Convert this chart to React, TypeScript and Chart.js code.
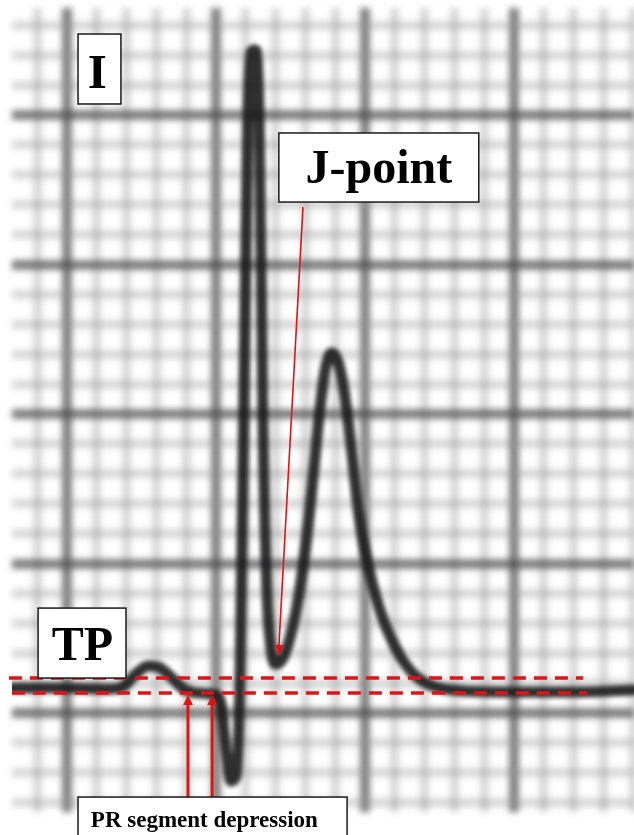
import React, { useEffect, useRef } from "react";
import { Chart, registerables } from "chart.js";

Chart.register(...registerables);

// ECG trace, lead I (units: small squares, 1 mm; big square = 5 mm)
const ecgX = [
  -1.846, -0.235, 1.443, 1.913, 2.315, 2.718, 3.121, 3.523, 3.926, 4.463, 4.933,
  5.168, 5.336, 5.503, 5.671, 5.805, 5.94, 6.074, 6.174, 6.309, 6.443, 6.577, 6.711,
  6.846, 7.013, 7.248, 7.517, 7.785, 8.054, 8.289, 8.49, 8.691, 8.893, 9.094, 9.295,
  9.53, 9.799, 10.101, 10.47, 10.872, 11.309, 11.779, 12.383, 13.356, 15.201, 17.215,
  19.027,
];
const ecgY = [
  0.836, 0.836, 0.803, 0.903, 1.304, 1.572, 1.505, 1.171, 0.803, 0.669, 0.635,
  0.268, -1.237, -2.274, -2.107, 1.104, 10.468, 19.833, 22.107, 22.174, 20.167, 9.799,
  4.114, 2.174, 1.639, 1.839, 2.642, 3.946, 5.953, 8.194, 10.201, 11.605, 12.04, 11.739,
  10.803, 8.963, 6.622, 4.95, 3.545, 2.508, 1.706, 1.171, 0.87, 0.736, 0.702, 0.702,
  0.769,
];

// Reference baselines (dashed red)
const tpLineX = [-1.95, 17.32];
const tpLineY = [1.17, 1.17];
const prLineX = [-1.85, 17.48];
const prLineY = [0.67, 0.67];

// Arrows: [fromX, fromY, toX, toY]
const jArrow = [7.92, 16.92, 7.11, 1.91];
const prArrowA = [4.06, -2.81, 4.06, 0.6];
const prArrowB = [4.87, -2.81, 4.87, 0.6];

// Labels
const labelTexts = ["I", "J-point", "TP", "PR segment depression"];
// box corners [x1, yTop, x2, yBottom] and text anchor [centerX, baselineY]
const labelBoxes = [
  [0.37, 22.71, 1.81, 20.37],
  [7.11, 19.4, 13.82, 17.09],
  [-0.97, 3.51, 1.98, 1.17],
  [0.37, -2.81, 9.4, -4.3],
];
const labelAnchors = [
  [1.02, 20.9],
  [10.47, 17.73],
  [0.52, 1.77],
  [4.61, -3.81],
];
const labelSizes = [49, 48, 48, 23];

const X_MIN = -1.846;
const X_MAX = 19.03;
const Y_MIN = -3.31;
const Y_MAX = 23.58;

const RED = "#e01414";

const pts = (xs: number[], ys: number[]) => xs.map((x, i) => ({ x, y: ys[i] }));

function isMajor(v: number) {
  return Math.abs(Math.round(v)) % 5 === 0;
}

function intTicks(scale: any) {
  const out: any[] = [];
  for (let v = Math.ceil(scale.min); v <= Math.floor(scale.max); v++) out.push({ value: v });
  scale.ticks = out;
}

const overlayPlugin = {
  id: "ecgOverlay",
  beforeDraw(chart: any) {
    chart.ctx.save();
    chart.ctx.filter = "blur(3px)";
  },
  beforeDatasetsDraw(chart: any) {
    chart.ctx.restore();
  },
  beforeDatasetDraw(chart: any, args: any) {
    if (args.index === 0) {
      chart.ctx.save();
      chart.ctx.filter = "blur(2px)";
    }
  },
  afterDatasetDraw(chart: any, args: any) {
    if (args.index === 0) chart.ctx.restore();
  },
  afterDraw(chart: any) {
    const ctx = chart.ctx;
    const xs = chart.scales.x;
    const ys = chart.scales.y;
    const px = (v: number) => xs.getPixelForValue(v);
    const py = (v: number) => ys.getPixelForValue(v);

    const head = (a: number[], len: number, half: number) => {
      const x1 = px(a[0]), y1 = py(a[1]), x2 = px(a[2]), y2 = py(a[3]);
      const ang = Math.atan2(y2 - y1, x2 - x1);
      ctx.save();
      ctx.fillStyle = RED;
      ctx.beginPath();
      ctx.moveTo(x2, y2);
      ctx.lineTo(
        x2 - len * Math.cos(ang) + half * Math.sin(ang),
        y2 - len * Math.sin(ang) - half * Math.cos(ang)
      );
      ctx.lineTo(
        x2 - len * Math.cos(ang) - half * Math.sin(ang),
        y2 - len * Math.sin(ang) + half * Math.cos(ang)
      );
      ctx.closePath();
      ctx.fill();
      ctx.restore();
    };
    head(jArrow, 11, 4.5);
    head(prArrowA, 10, 5);
    head(prArrowB, 10, 5);

    labelTexts.forEach((t, i) => {
      const b = labelBoxes[i];
      const x1 = px(b[0]), y1 = py(b[1]), x2 = px(b[2]), y2 = py(b[3]);
      ctx.save();
      ctx.fillStyle = "#ffffff";
      ctx.fillRect(x1, y1, x2 - x1, y2 - y1);
      ctx.strokeStyle = "#1a1a1a";
      ctx.lineWidth = 1.5;
      ctx.strokeRect(x1, y1, x2 - x1, y2 - y1);
      ctx.fillStyle = "#000000";
      ctx.font = `bold ${labelSizes[i]}px "Liberation Serif", "Times New Roman", serif`;
      ctx.textAlign = "center";
      ctx.textBaseline = "alphabetic";
      ctx.fillText(t, px(labelAnchors[i][0]), py(labelAnchors[i][1]));
      ctx.restore();
    });
  },
};

export default function App() {
  const ref = useRef<HTMLCanvasElement | null>(null);

  useEffect(() => {
    if (!ref.current) return;
    const gridOpts = {
      display: true,
      drawTicks: false,
      color: (c: any) =>
        isMajor(c.tick.value) ? "rgba(80,80,80,0.72)" : "rgba(150,150,150,0.36)",
      lineWidth: (c: any) => (isMajor(c.tick.value) ? 10 : 9),
    };
    const chart = new Chart(ref.current, {
      type: "line",
      data: {
        datasets: [
          {
            label: "ECG",
            data: pts(ecgX, ecgY),
            borderColor: "rgba(25,25,25,0.9)",
            borderWidth: 11,
            pointRadius: 0,
            cubicInterpolationMode: "monotone",
            borderCapStyle: "round",
            borderJoinStyle: "round",
            order: 1,
          },
          {
            label: "TP baseline",
            data: pts(tpLineX, tpLineY),
            borderColor: RED,
            borderWidth: 3.5,
            borderDash: [13, 8],
            pointRadius: 0,
            order: 0,
            clip: false,
          },
          {
            label: "PR baseline",
            data: pts(prLineX, prLineY),
            borderColor: RED,
            borderWidth: 3.5,
            borderDash: [13, 8],
            pointRadius: 0,
            order: 0,
          },
          {
            label: "J arrow",
            data: pts([jArrow[0], jArrow[2]], [jArrow[1], jArrow[3] + 0.3]),
            borderColor: RED,
            borderWidth: 1.6,
            pointRadius: 0,
            order: 0,
          },
          {
            label: "PR arrow A",
            data: pts([prArrowA[0], prArrowA[2]], [prArrowA[1], prArrowA[3] - 0.25]),
            borderColor: RED,
            borderWidth: 3,
            pointRadius: 0,
            order: 0,
          },
          {
            label: "PR arrow B",
            data: pts([prArrowB[0], prArrowB[2]], [prArrowB[1], prArrowB[3] - 0.25]),
            borderColor: RED,
            borderWidth: 3,
            pointRadius: 0,
            order: 0,
          },
        ],
      },
      options: {
        animation: false,
        responsive: false,
        events: [],
        layout: { padding: { left: 12, top: 8, right: 0, bottom: 23 } },
        plugins: {
          legend: { display: false },
          tooltip: { enabled: false },
          title: { display: false },
        },
        scales: {
          x: {
            type: "linear",
            min: X_MIN,
            max: X_MAX,
            afterBuildTicks: intTicks,
            ticks: { display: false },
            grid: gridOpts as any,
            border: { display: false },
          },
          y: {
            type: "linear",
            min: Y_MIN,
            max: Y_MAX,
            afterBuildTicks: intTicks,
            ticks: { display: false },
            grid: gridOpts as any,
            border: { display: false },
          },
        },
      },
      plugins: [overlayPlugin],
    });
    return () => chart.destroy();
  }, []);

  return (
    <div style={{ position: "fixed", left: 0, top: 0, width: 634, height: 835, background: "#fff" }}>
      <canvas ref={ref} width={634} height={835} style={{ display: "block" }} />
    </div>
  );
}
